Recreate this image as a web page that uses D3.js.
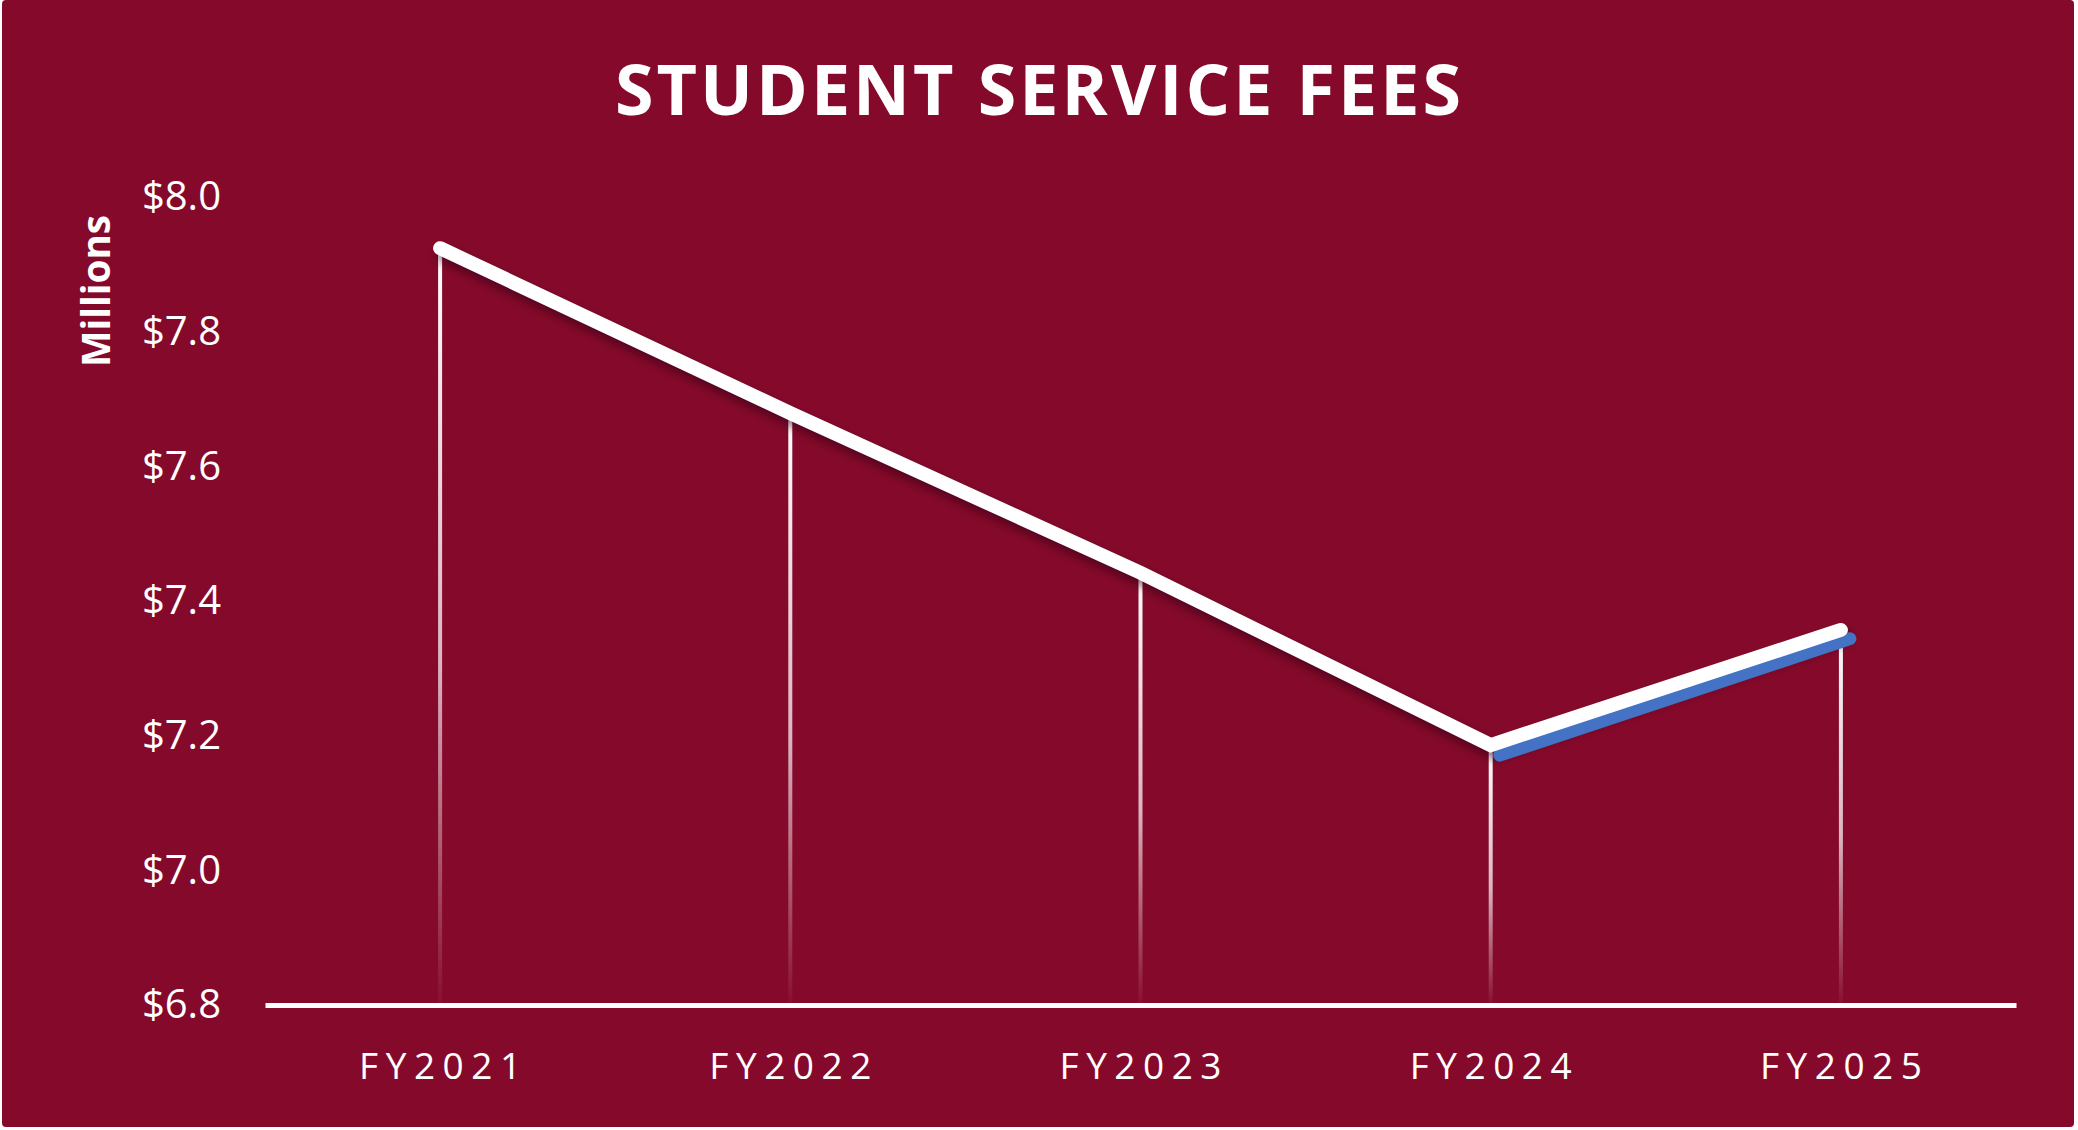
<!DOCTYPE html>
<html>
<head>
<meta charset="utf-8">
<script src="https://cdn.jsdelivr.net/npm/d3@7"></script>
<style>
  html, body { margin: 0; padding: 0; background: #ffffff; }
  svg { display: block; }
  .tick text { fill: #ffffff; font-family: "Open Sans", sans-serif; }
</style>
</head>
<body>
<svg id="main_svg_container" width="2078" height="1130"></svg>
<script>
// chart data
var years = ["FY2021", "FY2022", "FY2023", "FY2024", "FY2025"];
var fees = [7.924, 7.679, 7.442, 7.186, 7.357];
// second (blue) series only covers the last two years
var blue_years = ["FY2024", "FY2025"];
var blue_fees = [7.171, 7.344];
var y_ticks = [6.8, 7.0, 7.2, 7.4, 7.6, 7.8, 8.0];

var svg_width = 2078,
    svg_height = 1130;

var svg = d3.select("#main_svg_container");

// background panel
svg.append("rect")
    .attr("x", 2)
    .attr("y", 0)
    .attr("width", svg_width - 6)
    .attr("height", svg_height - 3)
    .attr("rx", 4)
    .attr("fill", "#85092B");

var defs = svg.append("defs");

// blurred dark copy of the line, drawn underneath
var shadow = defs.append("filter")
    .attr("id", "line_shadow")
    .attr("x", "-10%").attr("y", "-10%")
    .attr("width", "120%").attr("height", "140%");
shadow.append("feGaussianBlur")
    .attr("stdDeviation", 5);

var drop_grad = defs.append("linearGradient")
    .attr("id", "drop_grad")
    .attr("x1", 0).attr("y1", 0)
    .attr("x2", 0).attr("y2", 1);
drop_grad.append("stop").attr("offset", "0%").attr("stop-color", "#ffffff").attr("stop-opacity", 1);
drop_grad.append("stop").attr("offset", "55%").attr("stop-color", "#ffffff").attr("stop-opacity", 0.7);
drop_grad.append("stop").attr("offset", "100%").attr("stop-color", "#ffffff").attr("stop-opacity", 0.02);

// scales
var x = d3.scaleBand()
    .domain(years)
    .range([265, 2016])
    .padding(0);

var y = d3.scaleLinear()
    .domain([6.8, 8.0])
    .range([1005, 197]);

function xc(d) { return x(d) + x.bandwidth() / 2; }

// title
svg.append("text")
    .attr("x", 1038)
    .attr("y", 115)
    .attr("text-anchor", "middle")
    .attr("textLength", 846)
    .attr("lengthAdjust", "spacing")
    .style("font-family", "'Open Sans', sans-serif")
    .style("font-weight", 700)
    .style("font-size", "70px")
    .style("fill", "#ffffff")
    .text("STUDENT SERVICE FEES");

// y axis
var y_axis = svg.append("g")
    .attr("transform", "translate(221,0)")
    .call(d3.axisLeft(y)
        .tickValues(y_ticks)
        .tickSize(0)
        .tickPadding(0)
        .tickFormat(function(d) { return "$" + d.toFixed(1); }));
y_axis.select(".domain").remove();
y_axis.selectAll(".tick text")
    .style("font-size", "40px");

// axis title
svg.append("text")
    .attr("transform", "translate(110,291) rotate(-90)")
    .attr("text-anchor", "middle")
    .attr("textLength", 152)
    .attr("lengthAdjust", "spacingAndGlyphs")
    .style("font-family", "'Open Sans', sans-serif")
    .style("font-weight", 700)
    .style("font-size", "39px")
    .style("fill", "#ffffff")
    .text("Millions");

// drop lines
svg.append("g")
    .selectAll("rect")
    .data(years)
    .join("rect")
    .attr("x", function(d) { return xc(d) - 2; })
    .attr("y", function(d, i) { return y(fees[i]); })
    .attr("width", 4)
    .attr("height", function(d, i) { return y(6.8) - y(fees[i]); })
    .attr("fill", "url(#drop_grad)");

// x axis
var x_axis = svg.append("g")
    .attr("transform", "translate(0," + y(6.8) + ")")
    .call(d3.axisBottom(x).tickSize(0).tickSizeOuter(0).tickPadding(0));
x_axis.select(".domain")
    .attr("stroke", "#ffffff")
    .attr("stroke-width", 5);
x_axis.selectAll(".tick text")
    .attr("dy", 0)
    .attr("y", 74)
    .attr("textLength", 162)
    .attr("lengthAdjust", "spacing")
    .style("font-size", "37px");

var line = d3.line()
    .x(function(d) { return xc(d[0]); })
    .y(function(d) { return y(d[1]); });

var main_data = d3.zip(years, fees);

// shadow of the white line
svg.append("path")
    .datum(main_data)
    .attr("transform", "translate(4,7)")
    .attr("d", line)
    .attr("fill", "none")
    .attr("stroke", "#2a0010")
    .attr("stroke-opacity", 0.55)
    .attr("stroke-width", 14)
    .attr("stroke-linecap", "round")
    .attr("filter", "url(#line_shadow)");

// blue series, sits just under the white line
svg.append("path")
    .datum(d3.zip(blue_years, blue_fees))
    .attr("transform", "translate(9,0)")
    .attr("d", line)
    .attr("fill", "none")
    .attr("stroke", "#4472C4")
    .attr("stroke-width", 13)
    .attr("stroke-linecap", "round");

// main white line
svg.append("path")
    .datum(main_data)
    .attr("d", line)
    .attr("fill", "none")
    .attr("stroke", "#ffffff")
    .attr("stroke-width", 14)
    .attr("stroke-linecap", "round")
    .attr("stroke-linejoin", "miter");
</script>
</body>
</html>
